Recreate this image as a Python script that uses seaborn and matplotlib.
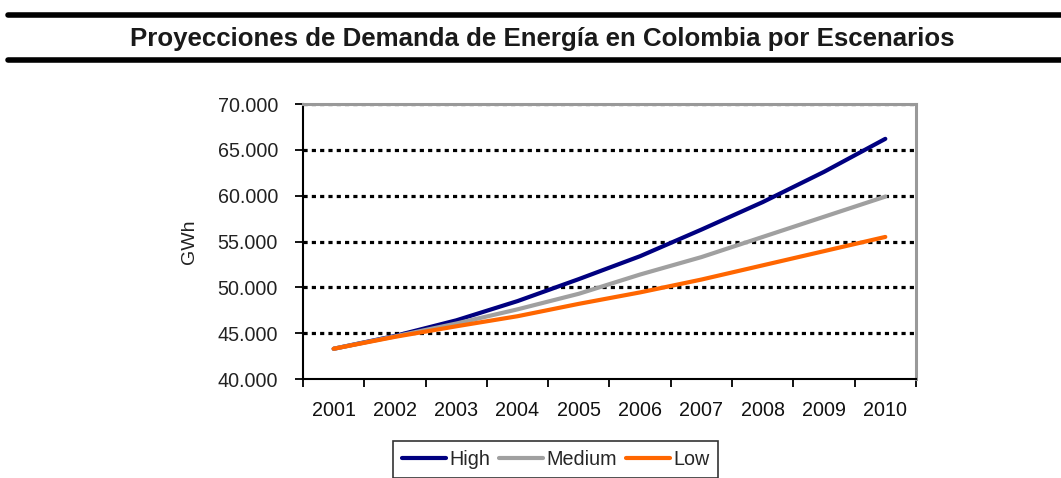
import matplotlib
matplotlib.use("Agg")
import matplotlib.pyplot as plt
from matplotlib.lines import Line2D
from matplotlib.ticker import FuncFormatter, FixedLocator, NullFormatter
import seaborn as sns
import pandas as pd

years = ["2001", "2002", "2003", "2004", "2005", "2006", "2007", "2008", "2009", "2010"]
high = [43300, 44700, 46400, 48500, 50900, 53400, 56300, 59300, 62600, 66200]
medium = [43300, 44650, 46050, 47600, 49300, 51400, 53300, 55500, 57700, 59900]
low = [43300, 44600, 45750, 46850, 48200, 49450, 50850, 52400, 53950, 55500]
scenarios = ["High", "Medium", "Low"]
colors = {"High": "#000080", "Medium": "#a0a0a0", "Low": "#ff6600"}

title = "Proyecciones de Demanda de Energía en Colombia por Escenarios"
ylabel = "GWh"

rows = []
for name, vals in zip(scenarios, [high, medium, low]):
    for i, (yr, v) in enumerate(zip(years, vals)):
        rows.append({"pos": i, "year": yr, "GWh": v, "Escenario": name})
df = pd.DataFrame(rows)

sns.set_theme(style="white")
plt.rcParams["font.family"] = ["Liberation Sans", "DejaVu Sans"]

fig = plt.figure(figsize=(10.61, 4.78), dpi=100)
ax = fig.add_axes([0.2856, 0.2071, 0.5777, 0.5753])

sns.lineplot(data=df, x="pos", y="GWh", hue="Escenario", hue_order=scenarios,
             palette=colors, linewidth=3.0, ax=ax, legend=False, zorder=3)

ax.set_xlim(-0.5, len(years) - 0.5)
ax.set_ylim(40000, 70000)
ax.set_yticks(range(40000, 70001, 5000))
ax.yaxis.set_major_formatter(FuncFormatter(lambda v, p: f"{v:,.0f}".replace(",", ".")))

# category boundaries carry the ticks, labels sit at the centres
ax.xaxis.set_major_locator(FixedLocator([i - 0.5 for i in range(len(years) + 1)]))
ax.xaxis.set_major_formatter(NullFormatter())
ax.xaxis.set_minor_locator(FixedLocator(list(range(len(years)))))
ax.set_xticklabels(years, minor=True)
ax.tick_params(axis="x", which="major", direction="out", length=6, width=1.3, color="black", bottom=True)
ax.tick_params(axis="x", which="minor", length=0, pad=16, labelsize=14.2, labelcolor="#111111")
ax.tick_params(axis="y", direction="out", length=6, width=1.3, color="black", left=True,
               labelsize=14.2, labelcolor="#222222", pad=12)

ax.set_xlabel("")
ax.set_ylabel(ylabel, fontsize=14, color="#222222", labelpad=14)

ax.grid(False)
for v in range(45000, 70001, 5000):
    ax.axhline(v, color="black", linewidth=2.3, linestyle=(0, (1.3, 1.3)), zorder=1)

ax.spines["left"].set_color("black")
ax.spines["bottom"].set_color("black")
ax.spines["left"].set_linewidth(1.5)
ax.spines["bottom"].set_linewidth(1.5)
for s in ("top", "right"):
    ax.spines[s].set_color("#999999")
    ax.spines[s].set_linewidth(2.2)

# heading band
fig.add_artist(Line2D([0.008, 1.0], [1 - 15 / 478, 1 - 15 / 478], color="black", linewidth=4.0))
fig.add_artist(Line2D([0.008, 1.0], [1 - 60 / 478, 1 - 60 / 478], color="black", linewidth=4.0))
fig.text(0.511, 1 - 39 / 478, title, ha="center", va="center", fontsize=18.6,
         fontweight="bold", color="#1a1a1a")

handles = [Line2D([], [], color=colors[n], linewidth=3.0) for n in scenarios]
leg = fig.legend(handles, scenarios, loc="upper center", bbox_to_anchor=(0.5236, 1 - 441 / 478),
                 ncol=3, frameon=True, fontsize=14.2, handlelength=2.25, handletextpad=0.15,
                 columnspacing=0.45, borderpad=0.45, fancybox=False, borderaxespad=0)
leg.get_frame().set_edgecolor("black")
leg.get_frame().set_linewidth(1.2)

fig.savefig("out.png", dpi=100, facecolor="white")
